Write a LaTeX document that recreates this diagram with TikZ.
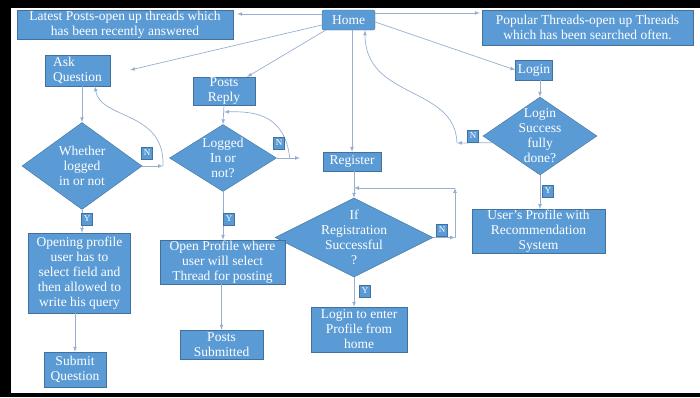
\documentclass[tikz,border=0pt]{standalone}
\usepackage{fontspec}
\setmainfont{Liberation Serif}
\usetikzlibrary{shapes.geometric}
\definecolor{boxblue}{RGB}{91,155,213}
\definecolor{boxedge}{RGB}{65,113,156}
\definecolor{linkblue}{RGB}{150,175,208}
\tikzset{
	box/.style={draw=boxedge,fill=boxblue,text=white,align=center,inner sep=0.5pt,
		font=\fontsize{13.5}{15}\selectfont},
	dia/.style={diamond,draw=boxedge,fill=boxblue,inner sep=0pt},
	dtext/.style={text=white,align=center,font=\fontsize{13.5}{15}\selectfont},
	yn/.style={draw=boxedge,fill=boxblue,text=white,inner sep=0pt,minimum width=11pt,
		minimum height=12pt,font=\fontsize{9}{10}\selectfont},
	link/.style={draw=linkblue,line width=0.7pt}
}

\begin{document}
\begin{tikzpicture}[x=1pt,y=-1pt,>=latex]
\useasboundingbox (0,0) rectangle (700,397);
\fill[black] (0,0) rectangle (700,8);
\fill[black] (0,0) rectangle (11,397);
\fill[black] (0,393) rectangle (700,397);

\node[box,minimum width=216pt,minimum height=29pt] (latest) at (125,24.5) {Latest Posts-open up threads which\\has been recently answered};
\node[box,rounded corners=2pt,minimum width=53pt,minimum height=20pt] (home) at (348.5,20) {Home};
\node[box,minimum width=211pt,minimum height=35pt] (popular) at (587.5,27.5) {Popular Threads-open up Threads\\which has been searched often.};
\node[box,align=left,minimum width=65pt,minimum height=31pt] (ask) at (77.5,70.5) {Ask\\Question};
\node[box,minimum width=62pt,minimum height=26pt] (reply) at (224,91) {Posts\\Reply};
\node[box,minimum width=37pt,minimum height=20pt] (login) at (534,70) {Login};
\node[box,minimum width=58pt,minimum height=19pt] (register) at (352,161.5) {Register};

\node[dia,minimum width=120pt,minimum height=87pt,label={[dtext]center:{Whether\\logged\\in or not}}] (whether) at (82,166) {};
\node[dia,minimum width=107pt,minimum height=67pt,label={[dtext]center:{Logged\\In or\\not?}}] (logged) at (223,158) {};
\node[dia,minimum width=114pt,minimum height=78pt,label={[dtext]center:{Login\\Success\\fully\\done?}}] (loginsuc) at (540,136) {};
\node[dia,minimum width=158pt,minimum height=79pt,label={[dtext]center:{If\\Registration\\Successful\\?}}] (regdia) at (354,237.5) {};

\node[box,minimum width=102pt,minimum height=80pt] (opening) at (79.5,273) {Opening profile\\user has to\\select field and\\then allowed to\\write his query};
\node[box,minimum width=125pt,minimum height=44pt] (openprof) at (222.5,262) {Open Profile where\\user will select\\Thread for posting};
\node[box,minimum width=83pt,minimum height=29pt] (submitted) at (221.5,344.5) {Posts\\Submitted};
\node[box,minimum width=62pt,minimum height=35pt] (submitq) at (75,369.5) {Submit\\Question};
\node[box,minimum width=96pt,minimum height=45pt] (logentr) at (359,329.5) {Login to enter\\Profile from\\home};
\node[box,minimum width=133pt,minimum height=42pt] (userprof) at (538.5,231) {User's Profile with\\Recommendation\\System};

\coordinate (askpt) at (130,70);
\coordinate (wn) at (163,166);
\coordinate (ln) at (300,158);
\coordinate (lr) at (224,112);
\coordinate (sn) at (457,143);
\coordinate (rn1) at (455,237.5);
\coordinate (rn2) at (455,188);
\coordinate (rn3) at (354,188);

\draw[link,->] ([yshift=6pt]home.west) -- ([shift={(4pt,10.5pt)}]latest.east);
\draw[link,->] ([yshift=7pt]home.east) -- ([shift={(-2pt,14.5pt)}]popular.west);
\draw[link,->] ([yshift=-5pt]home.west) -- (askpt);
\draw[link,->] ([xshift=-23pt]home.south) -- ([xshift=23pt]reply.north);
\draw[link,->] ([yshift=-2pt]home.east) -- (login.west);
\draw[link,->] (register.north |- home.south) -- (register.north);

\draw[link,->] (whether.north |- ask.south) -- (whether.north);
\draw[link,->] (whether.east) -- (wn);
\draw[link,->] (wn) .. controls (165,110) and (100,120) .. ([xshift=17.5pt]ask.south);
\draw[link,->] (whether.south) -- (whether.south |- opening.north);
\draw[link,->] (submitq.north |- opening.south) -- (submitq.north);

\draw[link,->] (reply.south) -- (logged.north);
\draw[link,->] (logged.east) -- (ln);
\draw[link,->] ([xshift=13pt]logged.east) .. controls (285,115) and (255,111) .. (lr);
\draw[link,->] (logged.south) -- (logged.south |- openprof.north);
\draw[link,->] (submitted.north |- openprof.south) -- (submitted.north);

\draw[link,->] (regdia.north |- register.south) -- (regdia.north);
\draw[link,->] (regdia.east) -- (rn1);
\draw[link,->] (rn1) -- (rn2);
\draw[link,->] (rn2) -- (rn3);
\draw[link,->] (regdia.south) -- (regdia.south |- logentr.north);

\draw[link,->] (loginsuc.north |- login.south) -- (loginsuc.north);
\draw[link,->] (loginsuc.188) -- (sn);
\draw[link,->] (sn) .. controls (455,85) and (365,100) .. ([xshift=16.5pt]home.south);
\draw[link,->] (loginsuc.south) -- (loginsuc.south |- userprof.north);

\node[yn] (wN) at (147,153) {N};
\node[yn] (wY) at (87,219) {Y};
\node[yn] (lN) at (279,143) {N};
\node[yn] (lY) at (229,219) {Y};
\node[yn] (sN) at (473,136) {N};
\node[yn] (sY) at (548,191) {Y};
\node[yn] (rN) at (442,230) {N};
\node[yn] (rY) at (365,291) {Y};
\end{tikzpicture}
\end{document}
